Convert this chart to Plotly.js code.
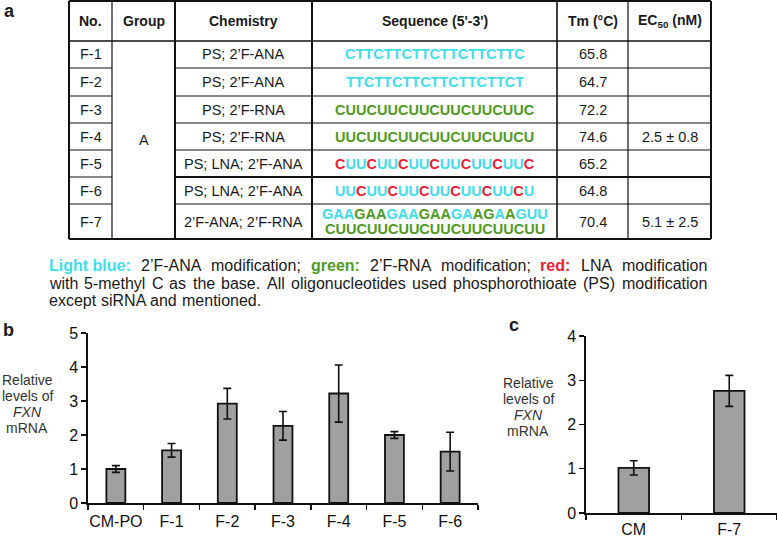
<!DOCTYPE html>
<html><head><meta charset="utf-8">
<script src="https://cdn.plot.ly/plotly-3.0.1.min.js"></script>
<style>html,body{margin:0;padding:0;background:#fff}#chart{width:777px;height:538px}</style>
</head><body><div id="chart"></div>
<script>
// ---------- Panel a: table data ----------
const tableHeaders = ["No.", "Group", "Chemistry", "Sequence (5'-3')", "Tm (°C)", "EC<sub>50</sub> (nM)"];
const tableNo = ["F-1", "F-2", "F-3", "F-4", "F-5", "F-6", "F-7"];
const tableGroup = "A";
const tableChemistry = ["PS; 2’F-ANA", "PS; 2’F-ANA", "PS; 2’F-RNA", "PS; 2’F-RNA", "PS; LNA; 2’F-ANA", "PS; LNA; 2’F-ANA", "2’F-ANA; 2’F-RNA"];
const tableSequence = [
  ["CTTCTTCTTCTTCTTCTTC"],
  ["TTCTTCTTCTTCTTCTTCT"],
  ["CUUCUUCUUCUUCUUCUUC"],
  ["UUCUUCUUCUUCUUCUUCU"],
  ["CUUCUUCUUCUUCUUCUUC"],
  ["UUCUUCUUCUUCUUCUUCU"],
  ["GAAGAAGAAGAAGAAGAAGUU", "CUUCUUCUUCUUCUUCUUCUU"]
];
// per-letter modification: b = 2'F-ANA (light blue), g = 2'F-RNA (green), r = LNA (red)
const tableSequenceMod = [
  ["bbbbbbbbbbbbbbbbbbb"],
  ["bbbbbbbbbbbbbbbbbbb"],
  ["ggggggggggggggggggg"],
  ["ggggggggggggggggggg"],
  ["rbbrbbrbbrbbrbbrbbr"],
  ["bbrbbrbbrbbrbbrbbrb"],
  ["bbbgggbbbgggbbggbgbbb", "ggggggggggggggggggggg"]
];
const tableTm = ["65.8", "64.7", "72.2", "74.6", "65.2", "64.8", "70.4"];
const tableEC50 = ["", "", "", "2.5 ± 0.8", "", "", "5.1 ± 2.5"];
const noteLines = [
  [["Light blue:", "b"], ["2’F-ANA", ""], ["modification;", ""], ["green:", "g"], ["2’F-RNA", ""], ["modification;", ""], ["red:", "r"], ["LNA", ""], ["modification", ""]],
  "with 5-methyl C as the base. All oligonucleotides used phosphorothioate (PS) modification",
  "except siRNA and mentioned."
];

// ---------- Panel b / c: bar data ----------
const catsB = ["CM-PO", "F-1", "F-2", "F-3", "F-4", "F-5", "F-6"];
const valsB = [1.00, 1.55, 2.92, 2.27, 3.22, 2.00, 1.51];
const errsB = [0.10, 0.20, 0.45, 0.42, 0.84, 0.10, 0.57];
const catsC = ["CM", "F-7"];
const valsC = [1.02, 2.76];
const errsC = [0.16, 0.35];
const yTitleLines = ["Relative", "levels of", "<i>FXN</i>", "mRNA"];

// ---------- layout helpers ----------
const W = 777, H = 538;
const X = p => p / W, Y = p => 1 - p / H;
const FONT = "Liberation Sans, Arial, sans-serif";
const COL = {b: "#3fdcec", g: "#4f9a22", r: "#ec1c34", "": "#1a1a1a"};
const colEdges = [69, 112, 175, 312, 557, 628, 711];
const rowEdges = [1, 41, 68, 96, 123, 150, 177, 204, 239];
const colC = i => (colEdges[i] + colEdges[i + 1]) / 2;
const rowC = i => (rowEdges[i] + rowEdges[i + 1]) / 2;

const shapes = [], annotations = [];
function hline(y, x0, x1, w) {
  shapes.push({type: "line", xref: "paper", yref: "paper", x0: X(x0), x1: X(x1), y0: Y(y), y1: Y(y), line: {color: "#111", width: w}});
}
function vline(x, y0, y1, w) {
  shapes.push({type: "line", xref: "paper", yref: "paper", x0: X(x), x1: X(x), y0: Y(y0), y1: Y(y1), line: {color: "#111", width: w}});
}
function text(t, x, y, size, opts) {
  annotations.push(Object.assign({
    text: t, xref: "paper", yref: "paper", x: X(x), y: Y(y), showarrow: false,
    xanchor: "center", yanchor: "middle", borderpad: 0, borderwidth: 0,
    font: {family: FONT, size: size, color: "#1a1a1a"}
  }, opts || {}));
}

// table grid
const tTop = rowEdges[0], tBot = rowEdges[rowEdges.length - 1];
const tL = colEdges[0], tR = colEdges[colEdges.length - 1];
hline(tTop, tL, tR, 2); hline(tBot, tL, tR, 2); vline(tL, tTop, tBot, 2); vline(tR, tTop, tBot, 2);
const vW = [0, 1.2, 2, 2, 1.6, 1.2, 0];
for (let i = 1; i < colEdges.length - 1; i++) vline(colEdges[i], tTop, tBot, vW[i]);
hline(rowEdges[1], tL, tR, 1.5);
for (let r = 2; r < rowEdges.length - 1; r++) {
  const w = (r === 6) ? 2 : 1.2;
  hline(rowEdges[r], colEdges[0], colEdges[1], 1.2);
  hline(rowEdges[r], colEdges[2], tR, w);
}

// table text
tableHeaders.forEach((h, i) => text("<b>" + h + "</b>", colC(i), rowC(0), 14));
function seqHTML(seq, mod) {
  let s = "";
  for (let k = 0; k < seq.length; k++) s += '<span style="color:' + COL[mod[k]] + '">' + seq[k] + "</span>";
  return "<b>" + s + "</b>";
}
tableNo.forEach((n, r) => {
  const yc = rowC(r + 1);
  text(n, colC(0), yc, 14.5);
  text(tableChemistry[r], colC(2), yc, 14.5);
  text(tableTm[r], colC(4), yc, 14.5);
  if (tableEC50[r]) text(tableEC50[r], colC(5), yc, 14.5);
  const lines = tableSequence[r];
  lines.forEach((ln, k) => {
    const yy = yc + (k - (lines.length - 1) / 2) * 15.5;
    text(seqHTML(ln, tableSequenceMod[r][k]), colC(3), yy, 14.5);
  });
});
text(tableGroup, colC(1), (rowEdges[1] + tBot) / 2, 14.5);

// note under table (justified lines)
const canvas = document.createElement("canvas");
const ctx = canvas.getContext("2d");
const noteL = 49, noteR = 707, noteY = [265, 283, 300];
function words(line) {
  return (typeof line === "string") ? line.split(" ").map(w => [w, ""]) : line;
}
// font size so that line 2 fits the text block with plain spaces
ctx.font = "100px 'Liberation Sans'";
const noteSize = Math.min(16, 100 * (noteR - noteL) / ctx.measureText(noteLines[1]).width);
noteLines.forEach((line, li) => {
  const ws = words(line);
  const widths = ws.map(([w, c]) => { ctx.font = (c ? "bold " : "") + noteSize + "px 'Liberation Sans'"; return ctx.measureText(w).width; });
  const total = widths.reduce((a, b) => a + b, 0);
  const justify = li < noteLines.length - 1;
  ctx.font = noteSize + "px 'Liberation Sans'";
  const gap = justify ? (noteR - noteL - total) / (ws.length - 1) : ctx.measureText(" ").width;
  let x = noteL;
  ws.forEach(([w, c], k) => {
    text(c ? "<b>" + w + "</b>" : w, x, noteY[li], noteSize, {xanchor: "left", font: {family: FONT, size: noteSize, color: COL[c]}});
    x += widths[k] + gap;
  });
});

// panel labels
text("<b>a</b>", 9, 11, 18);
text("<b>b</b>", 8, 330, 18);
text("<b>c</b>", 514, 325, 18);

// y titles
yTitleLines.forEach((t, k) => {
  text(t, 27, 380 + k * 16, 14, {font: {family: FONT, size: 14, color: "#333"}});
  text(t, 528, 383 + k * 16, 14, {font: {family: FONT, size: 14, color: "#333"}});
});

const barStyle = {color: "#a0a0a0", line: {color: "#111", width: 1.8}};
const errStyle = {type: "data", visible: true, color: "#111", thickness: 1.6, width: 4};
const traces = [
  {type: "bar", x: catsB, y: valsB, xaxis: "x", yaxis: "y", width: 0.34, marker: barStyle,
   error_y: Object.assign({array: errsB}, errStyle), hoverinfo: "x+y"},
  {type: "bar", x: catsC, y: valsC, xaxis: "x2", yaxis: "y2", width: 0.32, marker: barStyle,
   error_y: Object.assign({array: errsC}, errStyle), hoverinfo: "x+y"}
];

const tickFont = {family: FONT, size: 16, color: "#111"};
const xBase = {type: "category", showline: true, linecolor: "#111", linewidth: 1.6, ticks: "outside",
  tickson: "boundaries", ticklen: 5, tickwidth: 1.4, tickcolor: "#111", tickfont: tickFont, tickangle: 0,
  showgrid: false, fixedrange: true};
const yBase = {showline: true, linecolor: "#111", linewidth: 1.6, ticks: "outside", ticklen: 5, tickwidth: 1.4,
  tickcolor: "#111", tickfont: tickFont, showgrid: false, zeroline: false, dtick: 1, fixedrange: true};

const layout = {
  width: W, height: H, margin: {l: 0, r: 0, t: 0, b: 0},
  paper_bgcolor: "#fff", plot_bgcolor: "rgba(0,0,0,0)", showlegend: false,
  font: {family: FONT},
  xaxis: Object.assign({}, xBase, {domain: [X(88), X(478)], anchor: "y", range: [-0.5, 6.5], ticklabelstandoff: 3}),
  yaxis: Object.assign({}, yBase, {domain: [Y(503), Y(333)], anchor: "x", range: [0, 5]}),
  xaxis2: Object.assign({}, xBase, {domain: [X(586), 1], anchor: "y2", range: [-0.5, 1.5], ticklabelstandoff: 1}),
  yaxis2: Object.assign({}, yBase, {domain: [Y(513), Y(336)], anchor: "x2", range: [0, 4]}),
  shapes: shapes, annotations: annotations
};
Plotly.newPlot("chart", traces, layout, {displayModeBar: false, staticPlot: true});
</script></body></html>
